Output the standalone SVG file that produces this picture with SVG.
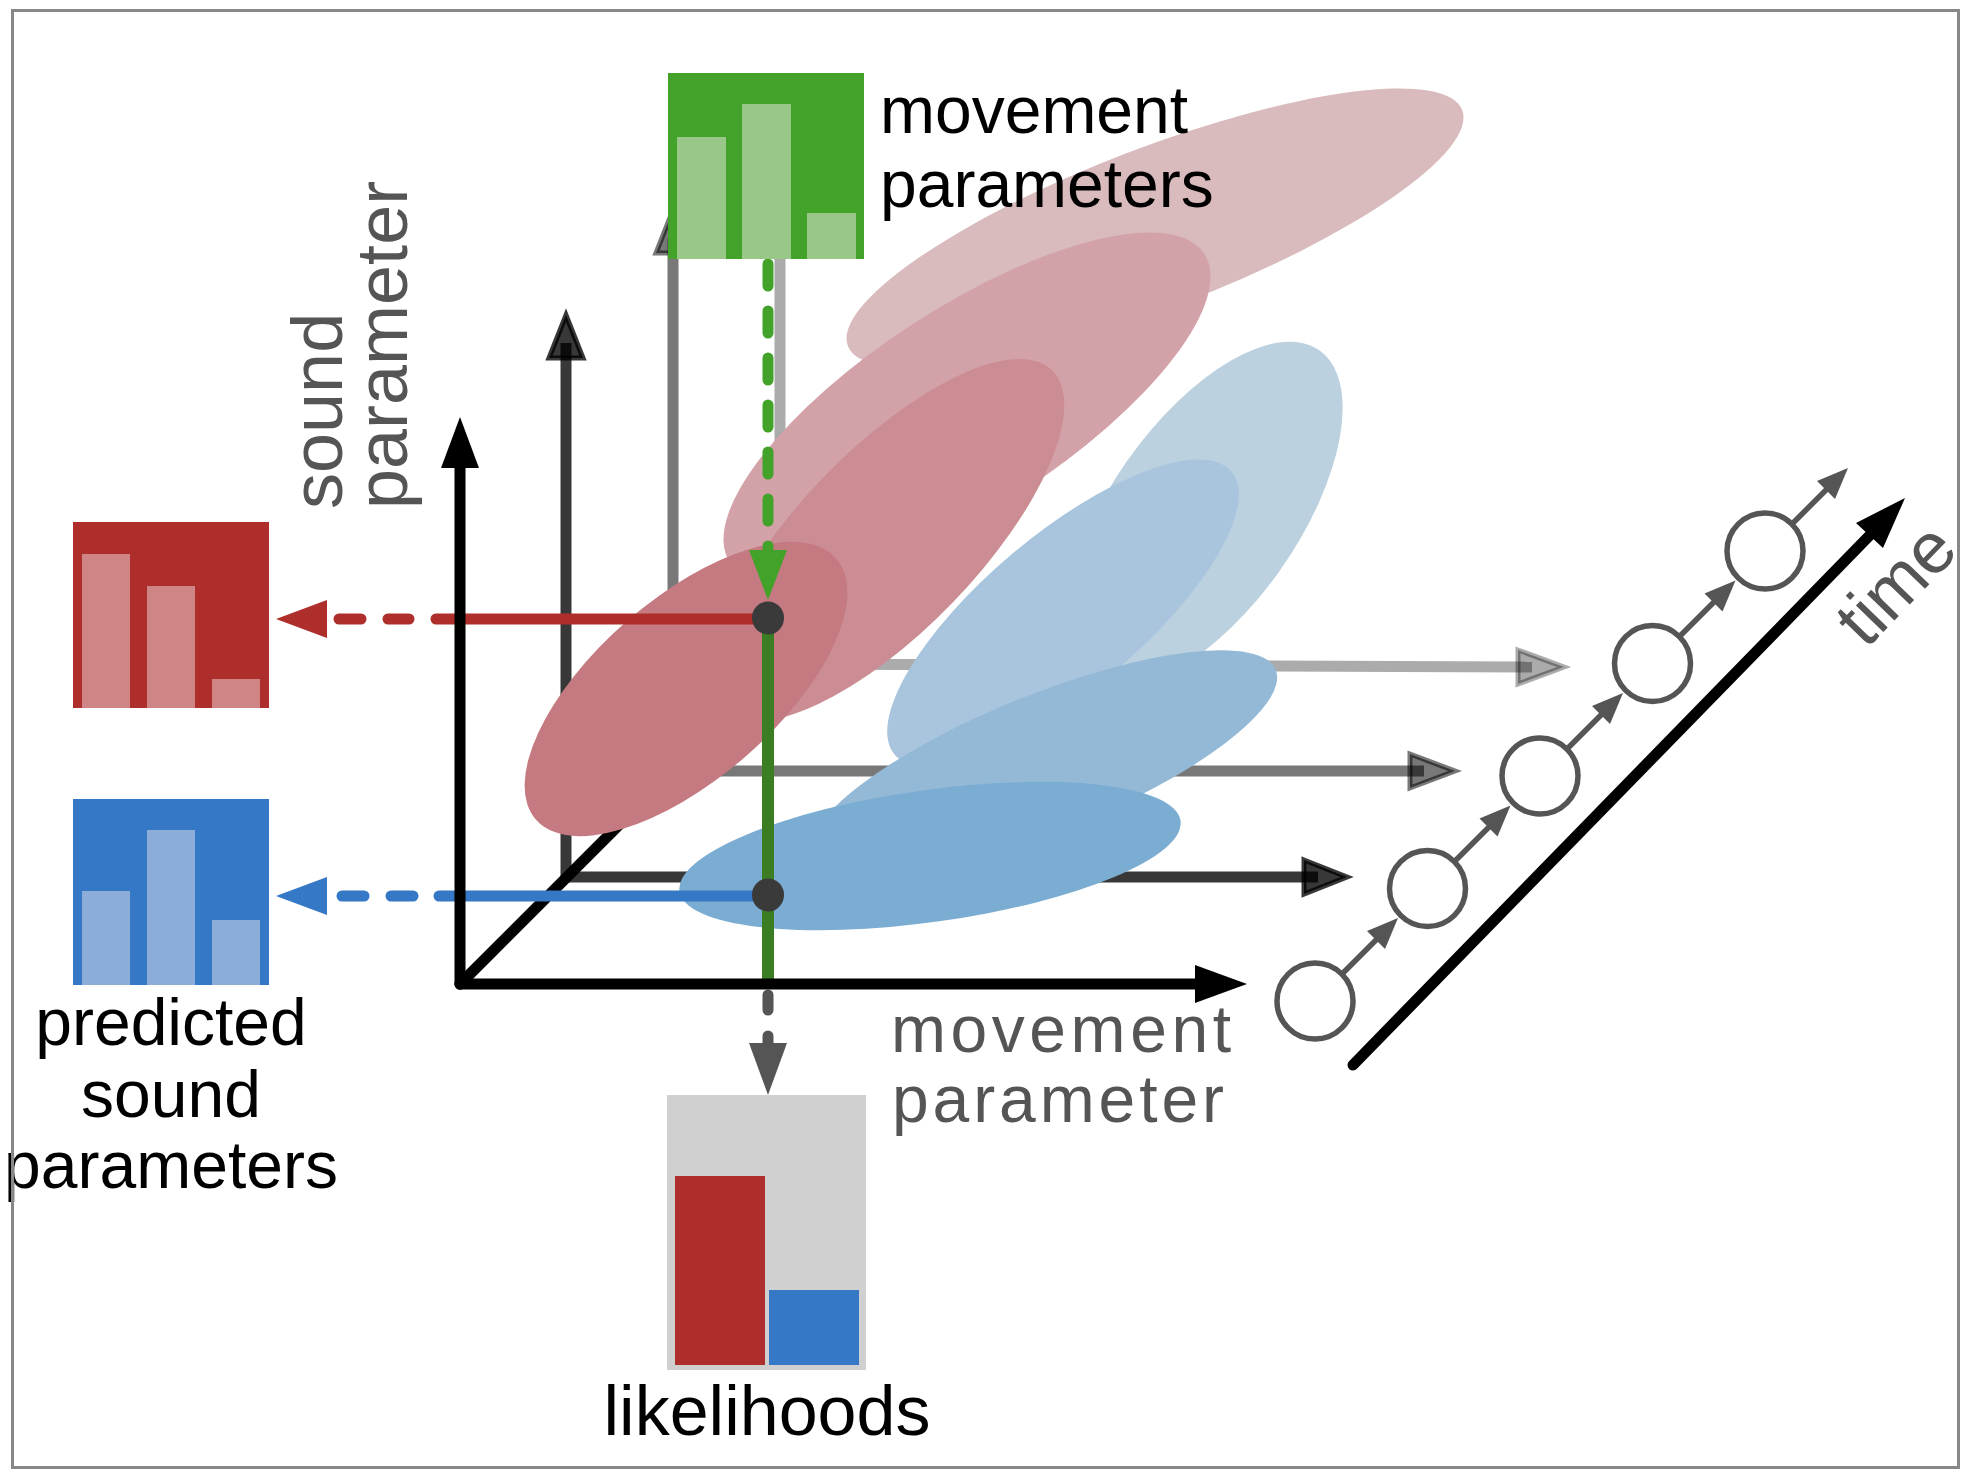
<svg xmlns="http://www.w3.org/2000/svg" xmlns:xlink="http://www.w3.org/1999/xlink" width="1970" height="1482" viewBox="0 0 1970 1482">
<defs>
<style>
.lbl{font-family:"Liberation Sans",Arial,sans-serif;fill:#000}
.ax{font-family:"Liberation Sans",Arial,sans-serif;fill:#555;font-size:72px}
.bar{stroke:none}
.tc{fill:#fff;stroke:#555;stroke-width:5.5}
</style>
<g id="tarrow">
<line x1="28" y1="-28" x2="64" y2="-64" stroke="#555" stroke-width="5.5"/>
<polygon points="83,-83 70,-52 52,-70" fill="#555"/>
</g>
</defs>
<rect x="0" y="0" width="1970" height="1482" fill="#fff"/>

<g id="axes-back">
<!-- plane 4 -->
<g stroke="#000" stroke-opacity="0.33" stroke-width="11" fill="#000" fill-opacity="0.33">
<line x1="780" y1="664" x2="780" y2="130"/>
<line x1="780" y1="664" x2="1532" y2="667"/>
<polygon points="1518,650 1564,667 1518,684" stroke-width="5"/>
</g>
<!-- plane 3 -->
<g stroke="#000" stroke-opacity="0.53" stroke-width="11" fill="#000" fill-opacity="0.53">
<line x1="673" y1="771" x2="673" y2="238"/>
<polygon points="656,253 673,210 690,253" stroke-width="5"/>
<line x1="673" y1="771" x2="1424" y2="771"/>
<polygon points="1410,754 1455,771 1410,788" stroke-width="5"/>
</g>
<!-- plane 2 -->
<g stroke="#000" stroke-opacity="0.78" stroke-width="11" fill="#000" fill-opacity="0.78">
<line x1="566" y1="877" x2="566" y2="343"/>
<polygon points="549,358 566,315 583,358" stroke-width="5"/>
<line x1="566" y1="877" x2="1318" y2="877"/>
<polygon points="1304,860 1347,877 1304,894" stroke-width="5"/>
</g>
<line x1="460" y1="984" x2="780" y2="664" stroke="#000" stroke-width="11" stroke-linecap="round"/>
</g>

<g id="ellipses">
<ellipse id="red4" cx="1155" cy="228" rx="329" ry="80" transform="rotate(-21 1155 228)" fill="#d9babd"/>
<ellipse id="red3" cx="967" cy="408" rx="283" ry="100" transform="rotate(-33 967 408)" fill="#d3a2a9"/>
<ellipse id="blue4" cx="1204" cy="515" rx="201" ry="94" transform="rotate(-55 1204 515)" fill="#bbd1e0"/>
<ellipse id="blue3" cx="1063" cy="613" rx="220" ry="78" transform="rotate(-40 1063 613)" fill="#a8c5dd"/>
<ellipse id="red2" cx="888" cy="540" rx="236" ry="90" transform="rotate(-46 888 540)" fill="#cb8d93"/>
<ellipse id="blue2" cx="1043" cy="764" rx="251" ry="69" transform="rotate(-22 1043 764)" fill="#93b9d6"/>
<ellipse id="red1" cx="686" cy="689" rx="199" ry="90" transform="rotate(-41 686 689)" fill="#c47a80"/>
<ellipse id="blue1" cx="930" cy="856" rx="253" ry="66" transform="rotate(-8 930 856)" fill="#7badd3"/>
</g>

<g id="time-axis">
<line x1="1353" y1="1065" x2="1872" y2="533" stroke="#000" stroke-width="11" stroke-linecap="round"/>
<polygon points="1905,498 1856,523 1883,548" fill="#000"/>
</g>

<g id="connectors">
<!-- green dashed from movement parameters -->
<line x1="768" y1="264" x2="768" y2="548" stroke="#43a22a" stroke-width="11" stroke-linecap="round" stroke-dasharray="22 25"/>
<polygon points="749,550 787,550 768,600" fill="#43a22a"/>
<!-- green solid -->
<line x1="768" y1="630" x2="768" y2="984" stroke="#3a7d23" stroke-width="12"/>
<!-- gray dashed to likelihoods -->
<line x1="768" y1="995" x2="768" y2="1010" stroke="#555" stroke-width="11" stroke-linecap="round"/>
<line x1="768" y1="1036" x2="768" y2="1046" stroke="#555" stroke-width="11" stroke-linecap="round"/>
<polygon points="749,1043 787,1043 768,1095" fill="#555"/>
<!-- red -->
<g stroke="#ad2e2a" stroke-width="11" stroke-linecap="round">
<line x1="436" y1="619" x2="768" y2="619"/>
<line x1="388" y1="619" x2="409" y2="619"/>
<line x1="339" y1="619" x2="361" y2="619"/>
</g>
<polygon points="276,619 327,600 327,638" fill="#ad2e2a"/>
<!-- blue -->
<g stroke="#3578c6" stroke-width="11" stroke-linecap="round">
<line x1="439" y1="896" x2="768" y2="896"/>
<line x1="391" y1="896" x2="413" y2="896"/>
<line x1="342" y1="896" x2="364" y2="896"/>
</g>
<polygon points="276,896 327,877 327,915" fill="#3578c6"/>
</g>

<g id="dots">
<ellipse cx="768" cy="618" rx="16" ry="16.5" fill="#3a3a3a"/>
<ellipse cx="768" cy="895" rx="16" ry="16.5" fill="#3a3a3a"/>
</g>

<g id="axes-front">
<line x1="460" y1="984" x2="460" y2="460" stroke="#000" stroke-width="11" stroke-linecap="round"/>
<polygon points="441,468 460,417 479,468" fill="#000"/>
<line x1="460" y1="984" x2="1200" y2="984" stroke="#000" stroke-width="11" stroke-linecap="round"/>
<polygon points="1195,965 1247,984 1195,1003" fill="#000"/>
</g>

<g id="time-nodes">
<circle class="tc" cx="1315" cy="1001" r="38"/>
<circle class="tc" cx="1427.5" cy="888.5" r="38"/>
<circle class="tc" cx="1540" cy="776" r="38"/>
<circle class="tc" cx="1652.5" cy="663.5" r="38"/>
<circle class="tc" cx="1765" cy="551" r="38"/>
<use xlink:href="#tarrow" transform="translate(1315 1001)"/>
<use xlink:href="#tarrow" transform="translate(1427.5 888.5)"/>
<use xlink:href="#tarrow" transform="translate(1540 776)"/>
<use xlink:href="#tarrow" transform="translate(1652.5 663.5)"/>
<use xlink:href="#tarrow" transform="translate(1765 551)"/>
</g>

<g id="movement-params">
<rect x="668" y="73" width="196" height="186" fill="#43a22a"/>
<rect class="bar" x="677" y="137" width="49" height="122" fill="#98c787"/>
<rect class="bar" x="742" y="104" width="49" height="155" fill="#98c787"/>
<rect class="bar" x="807" y="213" width="49" height="46" fill="#98c787"/>
<text class="lbl" x="880" y="133" font-size="66">movement</text>
<text class="lbl" x="880" y="207" font-size="66">parameters</text>
</g>

<g id="red-prediction">
<rect x="73" y="522" width="196" height="186" fill="#ad2e2a"/>
<rect class="bar" x="82" y="554" width="48" height="154" fill="#cf8485"/>
<rect class="bar" x="147" y="586" width="48" height="122" fill="#cf8485"/>
<rect class="bar" x="212" y="679" width="48" height="29" fill="#cf8485"/>
</g>

<g id="blue-prediction">
<rect x="73" y="799" width="196" height="186" fill="#3578c6"/>
<rect class="bar" x="82" y="891" width="48" height="94" fill="#8cadd8"/>
<rect class="bar" x="147" y="830" width="48" height="155" fill="#8cadd8"/>
<rect class="bar" x="212" y="920" width="48" height="65" fill="#8cadd8"/>
<text class="lbl" x="171" y="1045" font-size="66" text-anchor="middle">predicted</text>
<text class="lbl" x="171" y="1117" font-size="66" text-anchor="middle">sound</text>
<text class="lbl" x="171" y="1188" font-size="66" text-anchor="middle">parameters</text>
</g>

<g id="likelihoods">
<rect x="667" y="1095" width="199" height="275" fill="#d0d0d0"/>
<rect x="675" y="1176" width="90" height="189" fill="#ad2e2a"/>
<rect x="769" y="1290" width="90" height="75" fill="#3578c6"/>
<text class="lbl" x="767" y="1435" font-size="70" text-anchor="middle">likelihoods</text>
</g>

<g id="axis-labels">
<text class="ax" transform="translate(342 509) rotate(-90)">sound</text>
<text class="ax" transform="translate(407 509) rotate(-90)">parameter</text>
<text class="ax" x="891" y="1052" font-size="66" style="font-size:66px" textLength="340" lengthAdjust="spacing">movement</text>
<text class="ax" x="892" y="1122" font-size="66" style="font-size:66px" textLength="332" lengthAdjust="spacing">parameter</text>
<text class="ax" transform="translate(1866 650) rotate(-46)">time</text>
</g>

<rect x="12.5" y="10.5" width="1946" height="1457" fill="none" stroke="#888" stroke-width="3"/>
</svg>
